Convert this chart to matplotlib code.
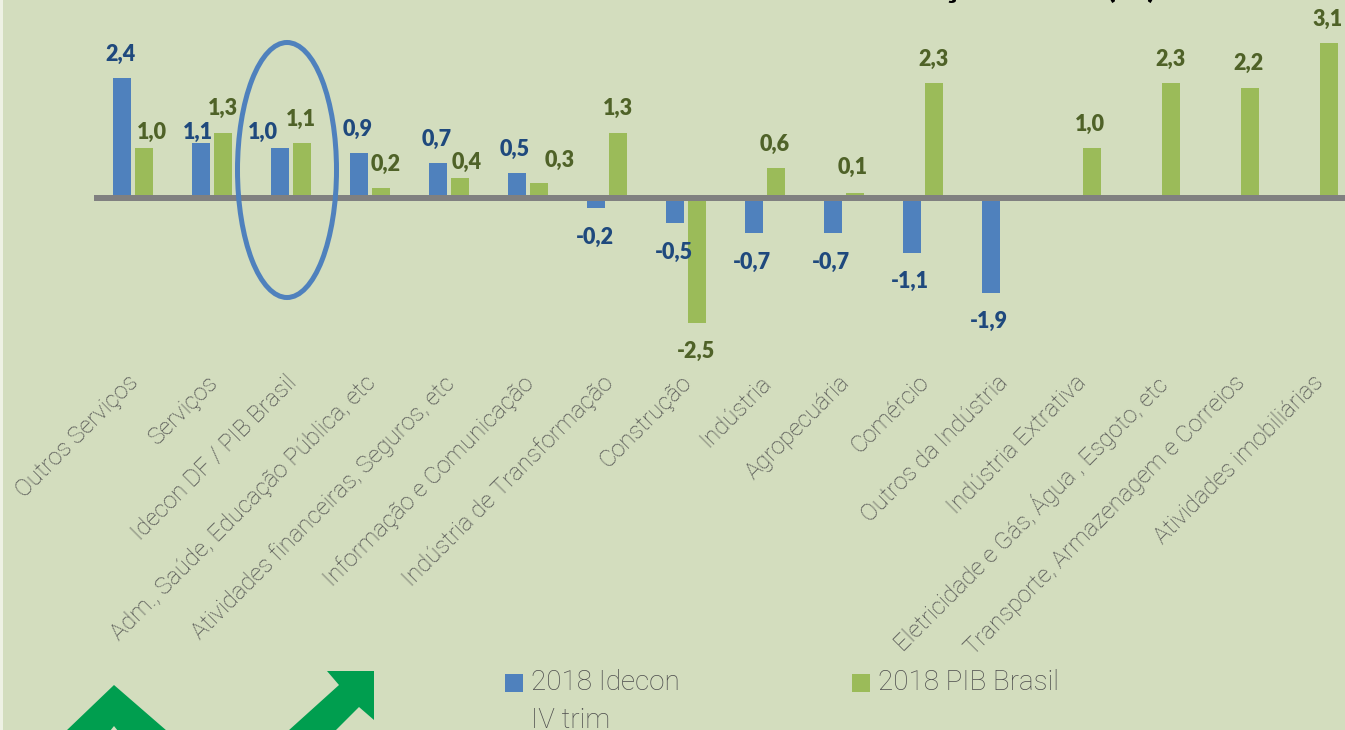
import numpy as np
import matplotlib
matplotlib.use("Agg")
import matplotlib.pyplot as plt
from matplotlib.patches import Ellipse, Polygon, Rectangle
from matplotlib.transforms import ScaledTranslation

categorias = ['Outros Serviços', 'Serviços', 'Idecon DF / PIB Brasil',
              'Adm., Saúde, Educação Pública, etc', 'Atividades financeiras, Seguros, etc',
              'Informação e Comunicação', 'Indústria de Transformação', 'Construção',
              'Indústria', 'Agropecuária', 'Comércio', 'Outros da Indústria',
              'Indústria Extrativa', 'Eletricidade e Gás, Água , Esgoto, etc',
              'Transporte, Armazenagem e Correios', 'Atividades imobiliárias']
idecon = [2.4, 1.1, 1.0, 0.9, 0.7, 0.5, -0.2, -0.5, -0.7, -0.7, -1.1, -1.9,
          np.nan, np.nan, np.nan, np.nan]
pib = [1.0, 1.3, 1.1, 0.2, 0.4, 0.3, 1.3, -2.5, 0.6, 0.1, 2.3, np.nan,
       1.0, 2.3, 2.2, 3.1]

# label offsets from the end of each bar, in pixels (manually dragged in the original)
off_idecon = [(-1, 24), (-3, 11), (-17, 16), (-1, 24), (-1, 24), (-2, 24), (-1, -29),
              (-1, -29), (-2, -29), (-2, -29), (-2, -28), (-2, -28), (0, 0), (0, 0), (0, 0), (0, 0)]
off_pib = [(8, 16), (0, 25), (-1, 24), (5, 24), (7, 16), (21, 23), (0, 25), (-1, -28),
           (-1, 24), (-2, 26), (-1, 24), (0, 0), (-2, 24), (-1, 24), (-1, 25), (-1, 24)]

BG = '#D3DDBE'
AZUL = '#4F81BD'
VERDE = '#9BBB59'
SETA = '#009E4F'
CINZA = '#4D4D4D'
W, H = 1345, 730

fig = plt.figure(figsize=(W / 100, H / 100), dpi=100, facecolor=BG)

# axes run from the left end of the grey line to the cut right edge, 50 px per unit
alt = 371
ax = fig.add_axes([94 / W, (H - alt) / H, (W - 94) / W, alt / H], facecolor='none')
ax.set_xlim(-(133 - 94) / 79, (W - 133) / 79)
ax.set_ylim((198 - alt) / 50, 198 / 50)
x = np.arange(len(categorias))
w = 18 / 79
ax.bar(x - 11 / 79, idecon, w, color=AZUL, zorder=2)
ax.bar(x + 11 / 79, pib, w, color=VERDE, zorder=2)

for xi, v, off in zip(x - 11 / 79, idecon, off_idecon):
    if not np.isnan(v):
        ax.annotate(f'{v:.1f}'.replace('.', ','), (xi, v), xytext=off, textcoords='offset pixels',
                    ha='center', va='center', fontsize=15.5, fontweight='heavy',
                    family='Lato', color='#1F497D', annotation_clip=False)
for xi, v, off in zip(x + 11 / 79, pib, off_pib):
    if not np.isnan(v):
        ax.annotate(f'{v:.1f}'.replace('.', ','), (xi, v), xytext=off, textcoords='offset pixels',
                    ha='center', va='center', fontsize=15.5, fontweight='heavy',
                    family='Lato', color='#4F6228', annotation_clip=False)

ax.axhline(0, color='#808080', lw=6 * 0.72, zorder=3, solid_capstyle='butt')
for s in ax.spines.values():
    s.set_visible(False)
ax.set_yticks([])
ax.set_xticks(x)
ax.set_xticklabels(categorias, rotation=45, ha='right', rotation_mode='anchor',
                   fontsize=17.2, family='Roboto', fontweight='light', color=CINZA)
ax.tick_params(axis='x', length=0, pad=0)
desloc = ScaledTranslation(-6 / 100, 0, fig.dpi_scale_trans)
for lab in ax.get_xticklabels():
    lab.set_transform(lab.get_transform() + desloc)

# overlay in reference pixel coordinates
ov = fig.add_axes([0, 0, 1, 1], facecolor='none')
ov.set_xlim(0, W)
ov.set_ylim(H, 0)
ov.axis('off')
ov.add_patch(Rectangle((0, 0), 2.5, H, color='#EEF1E4', lw=0))
ov.add_patch(Ellipse((287, 170), 99, 255, fill=False, ec=AZUL, lw=5 * 0.72))
ov.text(1157, -3, 'Taxa de Variação 2018 (%)', ha='right', va='baseline', fontsize=27,
        fontweight='bold', family='Lato', color='black')

ov.add_patch(Polygon([(114, 685), (167, 731), (118, 731), (114, 726), (110, 731), (66, 731)],
                     color=SETA, lw=0))
ov.add_patch(Polygon([(327, 671), (374, 671), (374, 720), (359, 707), (335, 731), (288, 731), (339, 685)],
                     color=SETA, lw=0))

ov.add_patch(Rectangle((505, 674), 18, 18, color=AZUL, lw=0))
ov.add_patch(Rectangle((852, 674), 18, 18, color=VERDE, lw=0))
ov.text(531, 690, '2018 Idecon', fontsize=20, family='Roboto', fontweight='light', color=CINZA)
ov.text(531, 728, 'IV trim', fontsize=20, family='Roboto', fontweight='light', color=CINZA)
ov.text(878, 690, '2018 PIB Brasil', fontsize=20, family='Roboto', fontweight='light', color=CINZA)

fig.savefig('out.png', dpi=100, facecolor=BG)
